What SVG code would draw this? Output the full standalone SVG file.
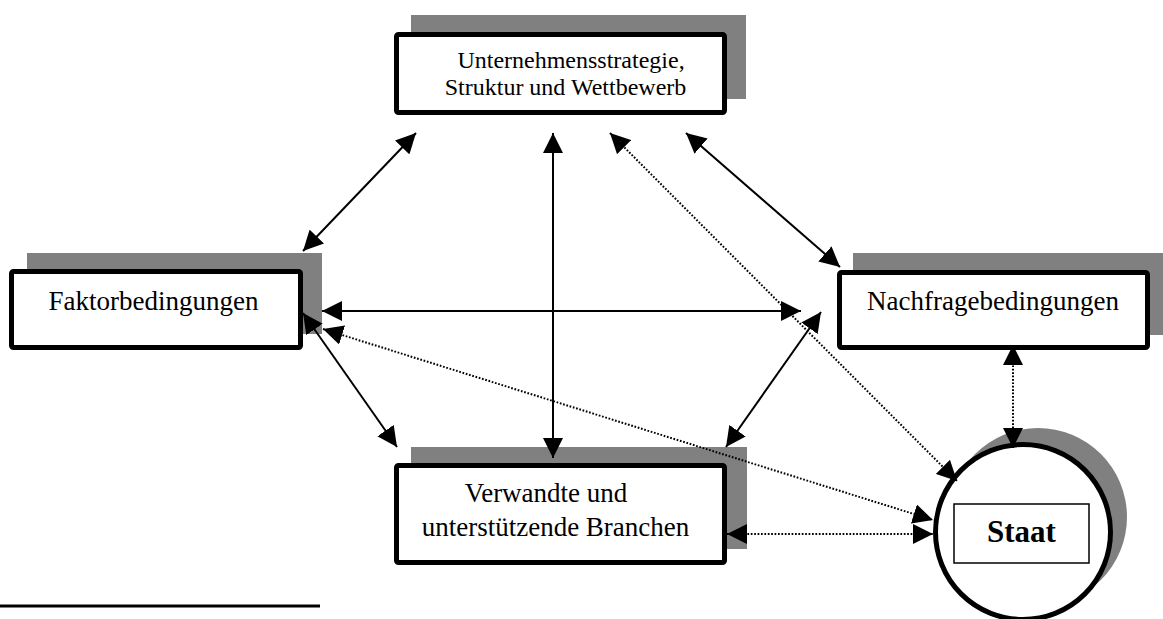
<svg xmlns="http://www.w3.org/2000/svg" width="1163" height="619" viewBox="0 0 1163 619">
<style>
.sh{fill:#808080;stroke:none}
.box{fill:#fff;stroke:#000;stroke-width:5}
.t{font-family:"Liberation Serif","Times New Roman",serif;font-size:27px;fill:#000;text-anchor:middle}
.ts{font-size:24px}
.solid{fill:none;stroke:#000;stroke-width:2}
.dot{fill:none;stroke:#000;stroke-width:2;stroke-dasharray:1.7 1.7}
</style>
<defs>
<marker id="ah" markerUnits="userSpaceOnUse" markerWidth="20" markerHeight="20" refX="20" refY="10" orient="auto-start-reverse" viewBox="0 0 20 20">
<path d="M0,0 L20,10 L0,20 Z" fill="#000"/>
</marker>
</defs>
<rect width="1163" height="619" fill="#fff"/>

<g id="node-unternehmen">
<rect class="sh" x="411" y="15" width="335" height="84"/>
<rect class="box" x="396.5" y="34.5" width="328" height="78" rx="2"/>
<text class="t ts" x="571" y="68">Unternehmensstrategie,</text>
<text class="t ts" x="565.5" y="95">Struktur und Wettbewerb</text>
</g>

<g id="node-faktor">
<rect class="sh" x="27" y="253" width="295" height="81"/>
<rect class="box" x="11.5" y="271.5" width="289" height="76" rx="2"/>
<text class="t" x="153.5" y="310">Faktorbedingungen</text>
</g>

<g id="node-nachfrage">
<rect class="sh" x="853" y="253" width="313" height="82"/>
<rect class="box" x="839.5" y="272.5" width="308" height="75" rx="2"/>
<text class="t" x="993" y="310">Nachfragebedingungen</text>
</g>

<g id="node-verwandte">
<rect class="sh" x="411" y="447" width="336" height="102"/>
<rect class="box" x="396.5" y="465.5" width="328" height="97" rx="2"/>
<text class="t" x="546" y="502">Verwandte und</text>
<text class="t" x="555.5" y="536">unterstützende Branchen</text>
</g>

<g id="node-staat">
<circle class="sh" cx="1038" cy="517" r="89"/>
<circle cx="1023" cy="532" r="87.5" fill="#fff" stroke="#000" stroke-width="5"/>
<rect x="954" y="504" width="135" height="59" fill="#fff" stroke="#000" stroke-width="1.5"/>
<text x="1021.5" y="542" font-family="'Liberation Serif','Times New Roman',serif" font-size="31" font-weight="bold" text-anchor="middle">Staat</text>
</g>

<g id="connectors">
<line class="solid" x1="416" y1="133" x2="303" y2="251" marker-start="url(#ah)" marker-end="url(#ah)"/>
<line class="solid" x1="553" y1="133" x2="553" y2="458" marker-start="url(#ah)" marker-end="url(#ah)"/>
<line class="solid" x1="686" y1="133" x2="840" y2="267" marker-start="url(#ah)" marker-end="url(#ah)"/>
<line class="solid" x1="322" y1="311" x2="801" y2="311" marker-start="url(#ah)" marker-end="url(#ah)"/>
<line class="solid" x1="303" y1="313" x2="397" y2="447" marker-start="url(#ah)" marker-end="url(#ah)"/>
<line class="solid" x1="821" y1="312" x2="726" y2="447" marker-start="url(#ah)" marker-end="url(#ah)"/>
<line class="dot" x1="610" y1="133" x2="957" y2="481" marker-start="url(#ah)" marker-end="url(#ah)"/>
<line class="dot" x1="323" y1="329" x2="933" y2="520" marker-start="url(#ah)" marker-end="url(#ah)"/>
<line class="dot" x1="727" y1="534" x2="933" y2="534" marker-start="url(#ah)" marker-end="url(#ah)"/>
<line class="dot" x1="1013" y1="345" x2="1013" y2="448" marker-start="url(#ah)" marker-end="url(#ah)"/>
</g>

<line x1="0" y1="606" x2="320" y2="606" stroke="#000" stroke-width="3"/>
</svg>
